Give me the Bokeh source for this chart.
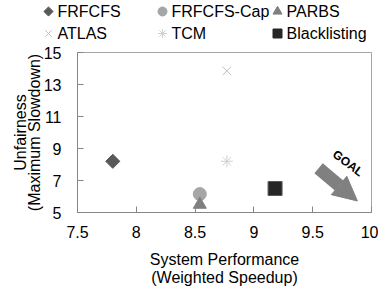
from bokeh.plotting import figure
from bokeh.layouts import column
from bokeh.models import Range1d, FixedTicker, Arrow, NormalHead, Label
from bokeh.core.properties import value
from bokeh.embed import file_html
from bokeh.resources import INLINE

# ---- data ----
names = ["FRFCFS", "FRFCFS-Cap", "PARBS", "ATLAS", "TCM", "Blacklisting"]
perf = [7.80, 8.54, 8.54, 8.77, 8.77, 9.18]          # weighted speedup
unfair = [8.2, 6.15, 5.5, 13.85, 8.2, 6.5]            # maximum slowdown
markers = ["square", "circle", "triangle", "x", "asterisk", "square"]
fills = ["#595959", "#a6a6a6", "#7f7f7f", "#bfbfbf", "#d0d0d0", "#262626"]
x_ticks = [7.5, 8, 8.5, 9, 9.5, 10]
x_tick_labels = ["7.5", "8", "8.5", "9", "9.5", "10"]
y_ticks = [5, 7, 9, 11, 13, 15]
goal_start = (9.55, 7.77)
goal_end = (9.88, 5.72)
goal_text_pos = (9.80, 8.08)

FONT = "Liberation Sans"

# ---------- legend strip (pixel-unit canvas above the chart) ----------
LEG_H = 44
col_x = [48, 162, 277]
row_y = [11, 33]
leg = figure(width=378, height=LEG_H, output_backend="svg", toolbar_location=None,
             x_range=Range1d(0, 378), y_range=Range1d(LEG_H, 0),
             x_axis_type=None, y_axis_type=None,
             min_border=0, outline_line_color=None)
leg.xgrid.visible = False
leg.ygrid.visible = False
for i, n in enumerate(names):
    mx, my = col_x[i % 3], row_y[i // 3]
    kw = dict(size=9, fill_color=fills[i], line_color=fills[i], marker=markers[i])
    if i == 0:
        kw.update(size=6.5, angle=0.785398)
    if markers[i] in ("x", "asterisk"):
        kw.update(line_width=1)
    leg.scatter([mx], [my], **kw)
    leg.text([mx + 9], [my], text=[n], text_font=value(FONT), text_font_size="16px",
             text_baseline="middle", text_align="left", text_color="black")

# ---------- main chart ----------
p = figure(width=378, height=290 - LEG_H, output_backend="svg", toolbar_location=None,
           x_range=Range1d(7.5, 10), y_range=Range1d(5, 15),
           min_border_left=77, min_border_right=7, min_border_top=52 - LEG_H,
           min_border_bottom=78)
p.xgrid.visible = False
p.ygrid.visible = False
p.outline_line_color = "#a6a6a6"
p.outline_line_width = 1

# keep the legend strip's canvas independent of the chart frame
for fig in (leg, p):
    if hasattr(fig, "frame_align"):
        fig.frame_align = False

for i, n in enumerate(names):
    kw = dict(size=13, fill_color=fills[i], line_color=fills[i], marker=markers[i])
    if i == 0:
        kw.update(size=10, angle=0.785398)
    if markers[i] in ("x", "asterisk"):
        kw.update(size=12, line_width=1)
    if i == 5:
        kw.update(size=14, line_color="#595959")
    p.scatter([perf[i]], [unfair[i]], **kw)

for ax in (p.xaxis[0], p.yaxis[0]):
    ax.axis_line_color = "#868686"
    ax.major_tick_line_color = "#868686"
    ax.major_tick_in = 6
    ax.major_tick_out = 0
    ax.minor_tick_line_color = None
    ax.major_label_text_font = FONT
    ax.major_label_text_font_size = "16px"
    ax.major_label_text_color = "black"
    ax.axis_label_text_font = FONT
    ax.axis_label_text_font_size = "16px"
    ax.axis_label_text_font_style = "normal"
    ax.axis_label_text_color = "black"

p.xaxis.ticker = FixedTicker(ticks=x_ticks)
p.xaxis.major_label_overrides = {t: l for t, l in zip(x_ticks, x_tick_labels)}
p.yaxis.ticker = FixedTicker(ticks=y_ticks)
p.xaxis.axis_label = "System Performance\n(Weighted Speedup)"
p.yaxis.axis_label = "Unfairness\n(Maximum Slowdown)"
p.xaxis.major_label_standoff = 13
p.xaxis.axis_label_standoff = 10
p.xaxis.axis_label_text_line_height = 1.1
p.yaxis.major_label_standoff = 16
p.yaxis.axis_label_standoff = -2
p.yaxis.axis_label_text_line_height = 0.8

p.add_layout(Arrow(end=NormalHead(size=24, fill_color="#808080", line_color="#808080"),
                   x_start=goal_start[0], y_start=goal_start[1],
                   x_end=goal_end[0], y_end=goal_end[1],
                   line_width=13, line_color="#808080"))
p.add_layout(Label(x=goal_text_pos[0], y=goal_text_pos[1], text="GOAL", angle=-0.64,
                   text_font=FONT, text_font_size="12px", text_font_style="bold",
                   text_align="center", text_baseline="middle", text_color="black"))

layout = column(leg, p, spacing=0)
open("out.html", "w").write(file_html(layout, INLINE))
